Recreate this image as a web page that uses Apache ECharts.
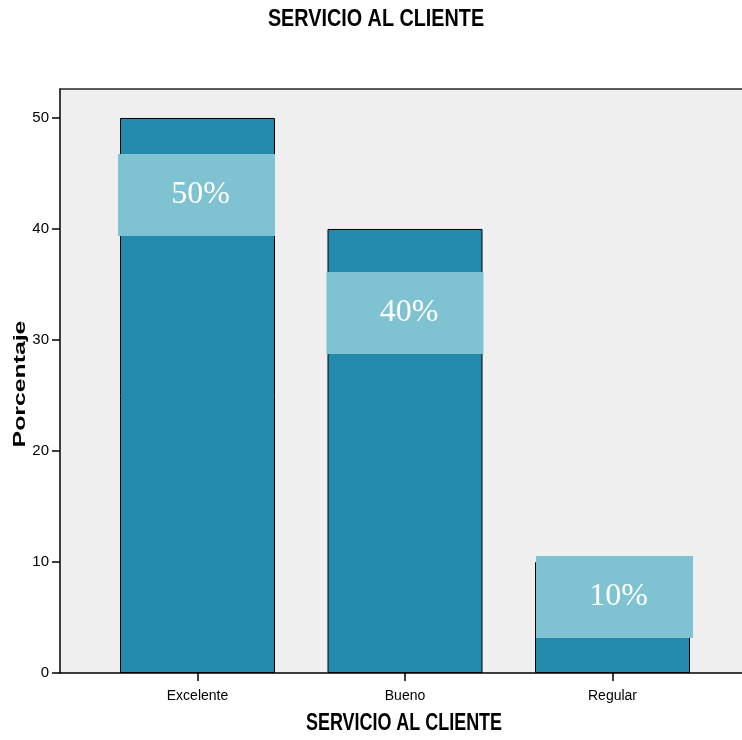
<!DOCTYPE html>
<html>
<head>
<meta charset="utf-8">
<script src="https://cdn.jsdelivr.net/npm/echarts@6/dist/echarts.min.js"></script>
<style>
  html, body { margin: 0; padding: 0; background: #ffffff; overflow: hidden; }
  #chart { width: 742px; height: 740px; }
</style>
</head>
<body>
<div id="chart"></div>
<script>
// Survey result: customer service rating (percent of respondents)
const categories = ['Excelente', 'Bueno', 'Regular'];
const percentages = [50, 40, 10];
const yTicks = [0, 10, 20, 30, 40, 50];
const chartTitle = 'SERVICIO AL CLIENTE';
const xTitle = 'SERVICIO AL CLIENTE';
const yTitle = 'Porcentaje';

const SANS = '"Liberation Sans", Arial, sans-serif';
const SERIF = '"Liberation Serif", "Times New Roman", serif';

const Y_MAX = 52.61;
const GRID_LEFT = 60;
const GRID_TOP = 89;
const GRID_BOTTOM = 67;
const CHART_W = 742, CHART_H = 740;

// Placement of each value box relative to the top-left corner of its bar
const boxW = 157, boxH = 82, boxPadLeft = 8;
const boxDx = [-2, -1, 1];
const boxDy = [36, 43, -6];

const barData = percentages.map((v, i) => ({
  value: v,
  label: { position: [boxDx[i] + boxW / 2, boxDy[i] + boxH / 2] }
}));

// Condensed bold heading text (horizontally squeezed sans)
function heading(text, x, y, squeeze) {
  return {
    type: 'text', x: x, y: y, scaleX: squeeze,
    style: {
      text: text, font: 'bold 23px ' + SANS, fill: '#000',
      textAlign: 'center', textVerticalAlign: 'middle'
    }
  };
}

const chart = echarts.init(document.getElementById('chart'), null, { renderer: 'canvas' });

chart.setOption({
  animation: false,
  backgroundColor: '#ffffff',
  graphic: [
    {
      // light grey plot-area backdrop, open on the right
      type: 'rect', z: -10, silent: true,
      shape: { x: GRID_LEFT, y: GRID_TOP, width: CHART_W - GRID_LEFT + 2, height: CHART_H - GRID_TOP - GRID_BOTTOM },
      style: { fill: '#efefef' }
    },
    heading(chartTitle, 376, 20, 0.86),
    heading(xTitle, 404, 724, 0.78),
    {
      type: 'text',
      x: 21, y: 384,
      rotation: Math.PI / 2,
      scaleX: 1.55,
      style: {
        text: yTitle,
        font: 'bold 16px ' + SANS,
        fill: '#000',
        textAlign: 'center',
        textVerticalAlign: 'middle'
      }
    }
  ],
  grid: [
    {
      left: GRID_LEFT, right: 0, top: GRID_TOP, bottom: GRID_BOTTOM, show: false
    },
    {
      left: 93.75, width: 622.5, top: GRID_TOP, bottom: GRID_BOTTOM, show: false
    }
  ],
  xAxis: [
    {
      gridIndex: 0, type: 'value', min: 0, max: 1,
      axisLine: { show: true, onZero: false, lineStyle: { color: '#000', width: 1.5 } },
      axisTick: { show: false }, axisLabel: { show: false }, splitLine: { show: false }
    },
    {
      gridIndex: 1, type: 'category', data: categories,
      axisLine: { show: false },
      axisTick: { show: true, alignWithLabel: true, length: 8, lineStyle: { color: '#000', width: 1.5 } },
      axisLabel: { color: '#000', fontFamily: SANS, fontSize: 14, margin: 16 }
    },
    {
      // frame line along the top of the plot area
      gridIndex: 0, type: 'value', position: 'top', min: 0, max: 1,
      axisLine: { show: true, onZero: false, lineStyle: { color: '#2a2a2a', width: 1.5 } },
      axisTick: { show: false }, axisLabel: { show: false }, splitLine: { show: false }
    }
  ],
  yAxis: [
    {
      gridIndex: 0, type: 'value', min: 0, max: Y_MAX, interval: 10,
      axisLine: { show: true, onZero: false, lineStyle: { color: '#000', width: 1.5 } },
      axisTick: { show: true, length: 8, customValues: yTicks, lineStyle: { color: '#000', width: 1.5 } },
      axisLabel: { customValues: yTicks, color: '#000', fontFamily: SANS, fontSize: 15, margin: 11 },
      splitLine: { show: false }
    },
    {
      gridIndex: 1, type: 'value', min: 0, max: Y_MAX, show: false,
      splitLine: { show: false }
    }
  ],
  series: [
    {
      type: 'bar',
      xAxisIndex: 1, yAxisIndex: 1,
      data: barData,
      barWidth: 155,
      itemStyle: { color: '#248aab', borderColor: '#000', borderWidth: 1 },
      label: {
        show: true,
        formatter: '{c}%',
        color: '#ffffff',
        fontFamily: SERIF,
        fontSize: 32,
        backgroundColor: '#7fc3d3',
        width: boxW - boxPadLeft,
        height: boxH,
        lineHeight: boxH,
        padding: [0, 0, 0, boxPadLeft],
        align: 'center',
        verticalAlign: 'middle'
      }
    }
  ]
});
</script>
</body>
</html>
